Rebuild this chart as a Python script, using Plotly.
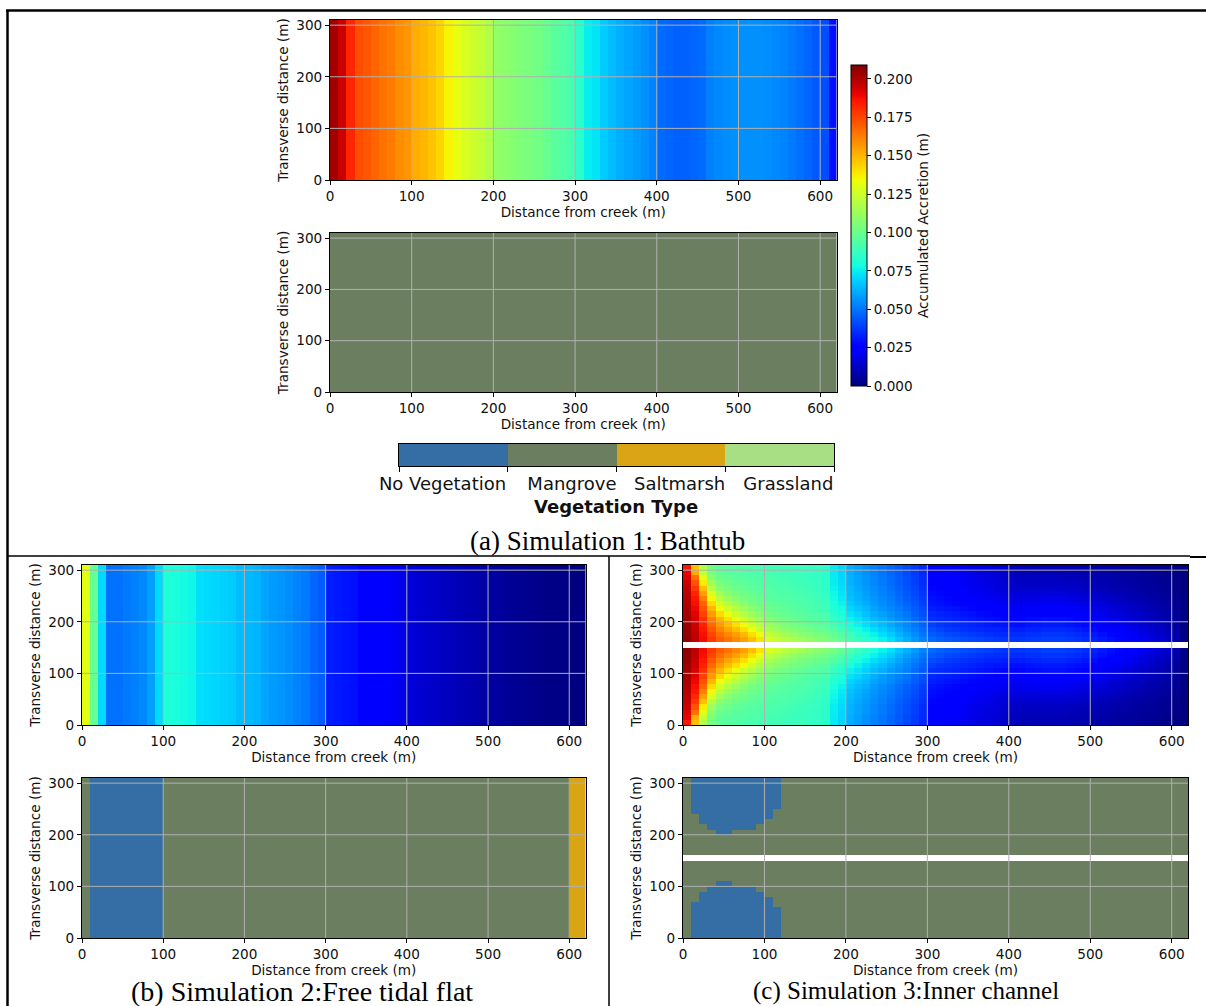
import numpy as np
import plotly.graph_objects as go

W, H = 1206, 1006              # figure size (px)

# ---------------- data ----------------
CELL = 10                      # grid cell size (m)
X_MAX, Y_MAX = 620, 310
X_TICKS = [0, 100, 200, 300, 400, 500, 600]
Y_TICKS = [0, 100, 200, 300]
CBAR_TICKS = [0.0, 0.025, 0.05, 0.075, 0.1, 0.125, 0.15, 0.175, 0.2]
ACC_MAX = 0.209

VEG_LABELS = ["No Vegetation", "Mangrove", "Saltmarsh", "Grassland"]
VEG_COLORS = ["#346ea4", "#6b7f60", "#daa514", "#a8de84"]

# accumulated accretion (mm) per 10 m column, Simulation 1 (uniform along y)
SIM1_ACC_MM = [203, 195, 182, 173, 171, 168, 165, 163, 159, 157,
               152, 150, 147, 143, 136, 132, 128, 125, 122, 118,
               110, 109, 107, 105, 104, 102, 99, 96, 94, 91,
               84, 75, 73, 68, 65, 62, 60, 58, 56, 53,
               48, 47, 46, 46, 47, 48, 52, 54, 55, 56,
               56, 56, 56, 55, 54, 53, 51, 49, 47, 44,
               42, 29]

# Simulation 2 (uniform along y)
SIM2_ACC_MM = [131, 99, 71, 49, 49, 51, 52, 54, 59, 71,
               81, 80, 78, 77, 72, 71, 70, 69, 68, 65,
               64, 63, 60, 58, 57, 55, 53, 51, 47, 45,
               32, 31, 30, 29, 26, 25, 24, 23, 21, 19,
               16, 15, 14, 13, 12, 11, 10, 9, 8, 7,
               6, 5, 4, 3, 3, 2, 2, 1, 1, 1,
               0, 0]

# Simulation 3: per column, rows y = 0-10 ... 140-150 (mirrored above the channel at 150-160)
SIM3_ACC_MM_COLS = [
    [185, 190, 192, 195, 197, 198, 199, 200, 201, 202, 203, 204, 205, 205, 206],
    [148, 152, 165, 172, 178, 182, 185, 187, 189, 191, 193, 195, 196, 197, 198],
    [118, 122, 130, 138, 148, 155, 162, 168, 172, 176, 180, 183, 185, 187, 188],
    [103, 105, 108, 113, 120, 128, 135, 142, 150, 156, 162, 167, 171, 175, 178],
    [97, 98, 100, 104, 108, 114, 120, 127, 134, 142, 150, 156, 161, 166, 170],
    [95, 96, 98, 101, 104, 108, 113, 119, 126, 133, 141, 148, 154, 160, 165],
    [94, 95, 96, 98, 101, 104, 108, 113, 119, 126, 133, 141, 148, 155, 160],
    [93, 94, 95, 97, 99, 101, 104, 108, 113, 119, 126, 134, 141, 149, 155],
    [92, 93, 94, 95, 97, 99, 101, 104, 108, 113, 119, 126, 133, 141, 148],
    [91, 92, 93, 94, 95, 97, 99, 101, 104, 108, 113, 119, 125, 133, 140],
    [90, 91, 92, 93, 94, 95, 96, 98, 100, 103, 107, 111, 116, 122, 128],
    [90, 90, 91, 92, 93, 94, 95, 97, 99, 101, 104, 108, 112, 118, 124],
    [89, 89, 90, 91, 92, 93, 94, 95, 97, 99, 102, 105, 109, 114, 120],
    [88, 88, 89, 90, 91, 92, 93, 94, 96, 97, 100, 103, 106, 111, 117],
    [88, 88, 88, 89, 90, 91, 92, 93, 94, 96, 98, 101, 104, 108, 114],
    [87, 87, 87, 88, 89, 90, 91, 92, 93, 94, 96, 99, 102, 106, 111],
    [86, 86, 86, 87, 87, 88, 89, 90, 91, 93, 95, 97, 100, 104, 108],
    [84, 84, 84, 85, 85, 86, 87, 88, 89, 91, 93, 95, 98, 102, 106],
    [74, 74, 75, 75, 76, 77, 78, 80, 82, 84, 87, 90, 94, 98, 102],
    [70, 70, 70, 71, 72, 73, 74, 76, 78, 80, 83, 86, 90, 94, 98],
    [62, 62, 63, 63, 64, 65, 66, 68, 70, 73, 76, 80, 84, 88, 92],
    [59, 59, 60, 60, 61, 62, 63, 65, 67, 70, 73, 76, 80, 84, 88],
    [56, 56, 57, 57, 58, 59, 60, 62, 64, 66, 69, 72, 76, 80, 84],
    [53, 53, 54, 54, 55, 56, 57, 58, 60, 62, 65, 68, 72, 76, 80],
    [50, 50, 51, 51, 52, 53, 54, 55, 57, 59, 62, 65, 68, 72, 76],
    [47, 47, 48, 48, 49, 50, 51, 52, 54, 56, 58, 61, 64, 68, 72],
    [44, 44, 45, 45, 46, 47, 48, 49, 51, 53, 55, 57, 60, 63, 67],
    [41, 41, 42, 42, 43, 44, 45, 46, 48, 50, 52, 54, 56, 59, 62],
    [38, 38, 39, 39, 40, 41, 42, 43, 45, 46, 48, 50, 52, 55, 58],
    [34, 34, 35, 35, 36, 37, 38, 39, 41, 42, 44, 46, 48, 50, 53],
    [25, 25, 26, 26, 27, 28, 29, 30, 32, 34, 36, 39, 42, 45, 48],
    [24, 24, 25, 25, 26, 27, 28, 29, 31, 33, 35, 37, 40, 43, 46],
    [23, 23, 24, 24, 25, 26, 27, 28, 30, 32, 34, 36, 38, 41, 44],
    [22, 22, 23, 23, 24, 25, 26, 27, 29, 31, 33, 35, 37, 40, 43],
    [21, 21, 22, 22, 23, 24, 25, 26, 28, 30, 32, 34, 36, 39, 42],
    [19, 19, 20, 20, 21, 22, 23, 25, 27, 29, 31, 33, 35, 38, 41],
    [18, 18, 19, 19, 20, 21, 22, 24, 26, 28, 30, 32, 34, 37, 40],
    [17, 17, 17, 18, 19, 20, 21, 23, 25, 27, 29, 31, 33, 36, 39],
    [15, 15, 16, 16, 17, 18, 20, 22, 24, 26, 28, 30, 33, 35, 38],
    [14, 14, 14, 15, 16, 17, 19, 21, 23, 25, 27, 30, 32, 35, 37],
    [11, 11, 12, 13, 14, 16, 18, 20, 22, 24, 27, 29, 32, 35, 37],
    [10, 10, 11, 12, 14, 16, 18, 20, 22, 24, 27, 29, 32, 35, 37],
    [10, 10, 11, 12, 14, 16, 18, 20, 23, 25, 28, 30, 33, 36, 38],
    [9, 10, 11, 12, 14, 16, 18, 21, 23, 26, 28, 31, 33, 36, 38],
    [9, 10, 11, 12, 14, 16, 19, 21, 24, 26, 29, 31, 34, 37, 39],
    [9, 10, 11, 12, 14, 16, 19, 21, 24, 26, 29, 31, 34, 37, 39],
    [9, 10, 11, 12, 14, 16, 19, 21, 24, 26, 29, 31, 34, 37, 39],
    [9, 9, 10, 12, 13, 15, 18, 20, 23, 25, 28, 30, 33, 36, 38],
    [8, 9, 10, 11, 13, 15, 17, 19, 22, 24, 27, 29, 32, 35, 37],
    [8, 8, 9, 10, 12, 14, 16, 18, 21, 23, 25, 28, 30, 33, 35],
    [7, 8, 9, 10, 11, 13, 15, 17, 19, 21, 24, 26, 28, 31, 33],
    [7, 7, 8, 9, 10, 12, 14, 16, 18, 20, 22, 24, 26, 29, 31],
    [6, 7, 7, 8, 9, 11, 13, 14, 16, 18, 20, 22, 24, 27, 29],
    [6, 6, 7, 7, 8, 10, 11, 13, 15, 17, 19, 21, 23, 25, 27],
    [5, 5, 6, 7, 8, 9, 10, 12, 14, 15, 17, 19, 21, 23, 25],
    [5, 5, 5, 6, 7, 8, 9, 11, 12, 14, 15, 17, 19, 21, 23],
    [4, 4, 5, 5, 6, 7, 8, 9, 11, 12, 13, 15, 17, 18, 20],
    [4, 4, 4, 5, 5, 6, 7, 8, 9, 10, 12, 13, 15, 16, 18],
    [3, 3, 3, 4, 4, 5, 6, 7, 8, 9, 10, 11, 12, 14, 15],
    [2, 2, 3, 3, 4, 4, 5, 6, 7, 7, 8, 9, 10, 12, 13],
    [1, 1, 2, 2, 2, 3, 3, 4, 4, 5, 5, 6, 7, 8, 9],
    [0, 0, 0, 0, 0, 0, 1, 1, 1, 1, 1, 1, 2, 2, 2],
]

# vegetation class per column (0 No veg, 1 Mangrove, 2 Saltmarsh, 3 Grassland)
SIM1_VEG = [1] * 62
SIM2_VEG = [1] + [0] * 9 + [1] * 50 + [2] * 2
# Simulation 3: height (m) of the bare (no vegetation) patch measured from each outer edge
SIM3_BARE_HEIGHT = [0, 70, 90, 100, 110, 110, 100, 100, 100, 90, 80, 60] + [0] * 50
CHANNEL_ROW = 15               # row 150-160 m is the inner channel

# legend label anchor positions along the legend strip (class units)
VEG_LABEL_POS = [0.40, 1.59, 2.58, 3.58]

# ---------------- grids ----------------
x_edges = np.arange(0, X_MAX + CELL, CELL)
y_edges = np.arange(0, Y_MAX + CELL, CELL)
ny = len(y_edges) - 1

sim1_z = np.tile(np.array(SIM1_ACC_MM, float) / 1000.0, (ny, 1))
sim2_z = np.tile(np.array(SIM2_ACC_MM, float) / 1000.0, (ny, 1))
lower = np.array(SIM3_ACC_MM_COLS, float).T / 1000.0
sim3_z = np.vstack([lower, np.full((1, lower.shape[1]), np.nan), lower[::-1]])

sim1_veg = np.tile(np.array(SIM1_VEG, float), (ny, 1))
sim2_veg = np.tile(np.array(SIM2_VEG, float), (ny, 1))
sim3_veg = np.ones((ny, len(SIM3_BARE_HEIGHT)))
for i, h in enumerate(SIM3_BARE_HEIGHT):
    nrows = h // CELL
    sim3_veg[:nrows, i] = 0
    if nrows:
        sim3_veg[ny - nrows:, i] = 0
sim3_veg[CHANNEL_ROW, :] = np.nan


# matplotlib "jet" colormap
def jet_scale(n=65):
    t = np.linspace(0, 1, n)
    r = np.interp(t, [0, 0.35, 0.66, 0.89, 1], [0, 0, 1, 1, 0.5])
    g = np.interp(t, [0, 0.125, 0.375, 0.64, 0.91, 1], [0, 0, 1, 1, 0, 0])
    b = np.interp(t, [0, 0.11, 0.34, 0.65, 1], [0.5, 1, 1, 0, 0])
    return [[float(tt), f"rgb({int(round(rr*255))},{int(round(gg*255))},{int(round(bb*255))})"]
            for tt, rr, gg, bb in zip(t, r, g, b)]


JET = jet_scale()
nveg = len(VEG_COLORS)
VEG_SCALE = []
for k, c in enumerate(VEG_COLORS):
    VEG_SCALE.append([k / nveg, c])
    VEG_SCALE.append([(k + 1) / nveg, c])


# ---------------- layout helpers (pixels -> paper coords) ----------------
def px(x):
    return x / W


def py(y):
    return 1 - y / H


def xdom(l, r):
    return [px(l), px(r)]


def ydom(t, b):
    return [py(b), py(t)]


FONT = "DejaVu Sans"
FS = 13.6
TICKFONT = dict(family=FONT, size=FS, color="#111")

panels = [  # (name, x px range, y px range, z, kind)
    ("1", (330, 836.5), (20, 180), sim1_z, "acc"),
    ("2", (330, 836.5), (233, 392), sim1_veg, "veg"),
    ("4", (82, 585.5), (565, 725), sim2_z, "acc"),
    ("5", (82, 585.5), (778, 938), sim2_veg, "veg"),
    ("6", (683, 1188), (565, 725), sim3_z, "acc"),
    ("7", (683, 1188), (778, 938), sim3_veg, "veg"),
]

fig = go.Figure()
layout = dict(width=W, height=H, margin=dict(l=0, r=0, t=0, b=0, pad=0, autoexpand=False),
              autosize=False, paper_bgcolor="white", plot_bgcolor="white", showlegend=False,
              font=dict(family=FONT, size=FS, color="#111"))
shapes = []

for name, (xl, xr), (yt, yb), z, kind in panels:
    xa = "x" + ("" if name == "1" else name)
    ya = "y" + ("" if name == "1" else name)
    if kind == "acc":
        tr = go.Heatmap(z=z, x=x_edges, y=y_edges, colorscale=JET, zmin=0, zmax=ACC_MAX,
                        xaxis=xa, yaxis=ya, showscale=(name == "1"), hoverinfo="skip")
        if name == "1":
            tr.colorbar = dict(
                x=px(851), xanchor="left", xpad=0, y=py(225.5), yanchor="middle", ypad=0,
                len=(386 - 65) / H, lenmode="fraction", thickness=16, thicknessmode="pixels",
                outlinewidth=1, outlinecolor="black", ticks="outside", ticklen=4,
                tickcolor="black", tickvals=CBAR_TICKS, tickformat=".3f",
                tickfont=TICKFONT,
                title=dict(text="Accumulated Accretion (m)", side="right",
                           font=dict(family=FONT, size=FS, color="#111")))
    else:
        tr = go.Heatmap(z=z, x=x_edges, y=y_edges, colorscale=VEG_SCALE, zmin=0, zmax=nveg - 1,
                        xaxis=xa, yaxis=ya, showscale=False, hoverinfo="skip")
    fig.add_trace(tr)
    common = dict(showline=True, linecolor="black", linewidth=1, mirror=True,
                  ticks="outside", ticklen=4, tickcolor="black", tickfont=TICKFONT,
                  showgrid=False, zeroline=False, automargin=False)
    layout["xaxis" + ("" if name == "1" else name)] = dict(
        common, domain=xdom(xl, xr), anchor=ya, range=[0, X_MAX], tickvals=X_TICKS,
        title=dict(text="Distance from creek (m)", standoff=2,
                   font=dict(family=FONT, size=FS, color="#111")))
    layout["yaxis" + ("" if name == "1" else name)] = dict(
        common, domain=ydom(yt, yb), anchor=xa, range=[0, Y_MAX], tickvals=Y_TICKS,
        title=dict(text="Transverse distance (m)", standoff=4,
                   font=dict(family=FONT, size=FS, color="#111")))
    # grid lines drawn over the image (as in matplotlib)
    for xv in X_TICKS[1:]:
        shapes.append(dict(type="line", xref=xa, yref=ya, x0=xv, x1=xv, y0=0, y1=Y_MAX,
                           line=dict(color="#b0b0b0", width=1), layer="above"))
    for yv in Y_TICKS[1:]:
        shapes.append(dict(type="line", xref=xa, yref=ya, x0=0, x1=X_MAX, y0=yv, y1=yv,
                           line=dict(color="#b0b0b0", width=1), layer="above"))

# vegetation legend strip
fig.add_trace(go.Heatmap(z=[list(range(nveg))], x=list(range(nveg + 1)), y=[0, 1],
                         colorscale=VEG_SCALE, zmin=0, zmax=nveg - 1, showscale=False,
                         xaxis="x3", yaxis="y3", hoverinfo="skip"))
layout["xaxis3"] = dict(domain=xdom(399, 834), anchor="y3", range=[0, nveg],
                        showline=True, linecolor="black", linewidth=1, mirror=True,
                        tickvals=VEG_LABEL_POS, ticktext=VEG_LABELS,
                        ticks="outside", ticklen=1, tickcolor="rgba(0,0,0,0)",
                        tickfont=dict(family=FONT, size=18, color="#111"),
                        minor=dict(tickmode="array", tickvals=list(range(nveg + 1)),
                                   ticks="outside", ticklen=5, tickcolor="black"),
                        showgrid=False, zeroline=False, automargin=False)
layout["yaxis3"] = dict(domain=ydom(444, 466), anchor="x3", range=[0, 1],
                        showline=True, linecolor="black", linewidth=1, mirror=True,
                        showticklabels=False, ticks="", showgrid=False, zeroline=False,
                        automargin=False)


def serif(size):
    return dict(family="Liberation Serif", size=size, color="black")


annotations = [
    dict(text="<b>Vegetation Type</b>", x=px(616), y=py(506), xref="paper", yref="paper",
         xanchor="center", yanchor="middle", showarrow=False,
         font=dict(family=FONT, size=18, color="#111")),
    dict(text="(a) Simulation 1: Bathtub", x=px(607), y=py(541), xref="paper", yref="paper",
         xanchor="center", yanchor="middle", showarrow=False, font=serif(27)),
    dict(text="(b) Simulation 2:Free tidal flat", x=px(302), y=py(991), xref="paper",
         yref="paper", xanchor="center", yanchor="middle", showarrow=False, font=serif(28)),
    dict(text="(c) Simulation 3:Inner channel", x=px(906), y=py(991), xref="paper",
         yref="paper", xanchor="center", yanchor="middle", showarrow=False, font=serif(25)),
]


def pline(x0, y0, x1, y1, w):
    return dict(type="line", xref="paper", yref="paper", x0=px(x0), x1=px(x1),
                y0=py(y0), y1=py(y1), line=dict(color="black", width=w), layer="above")


shapes += [
    pline(6, 10.5, 1206, 10.5, 2.5),
    pline(7.5, 10, 7.5, 1006, 2.5),
    pline(7, 556, 1190, 556, 1.5),
    pline(1190, 557, 1206, 557, 2),
    pline(609, 556, 609, 1006, 1.5),
]

layout["shapes"] = shapes
layout["annotations"] = annotations
fig.update_layout(**layout)
fig.write_html("out.html")
